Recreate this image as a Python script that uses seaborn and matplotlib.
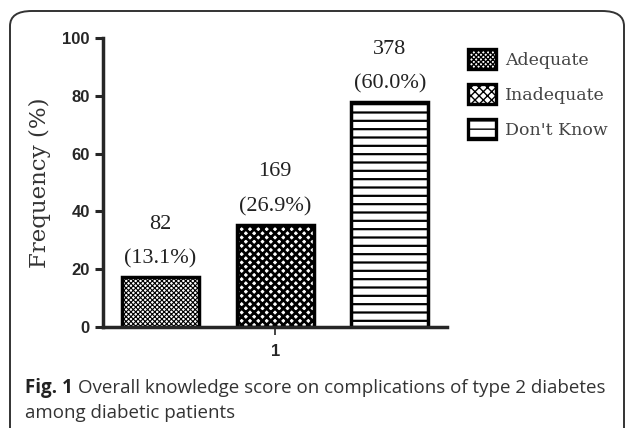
import matplotlib
matplotlib.use("Agg")
import matplotlib.pyplot as plt
from matplotlib.patches import FancyBboxPatch, Patch
import seaborn as sns
import pandas as pd

# values
groups = ["1", "1", "1"]
categories = ["Adequate", "Inadequate", "Don't Know"]
heights = [17.3, 35.4, 77.9]
counts = [82, 169, 378]
percents = ["13.1%", "26.9%", "60.0%"]
hatches = ["xxxxxxx", "xxxx", "--"]

df = pd.DataFrame({"group": groups, "knowledge": categories, "freq": heights})

sns.set_style("ticks")
fig = plt.figure(figsize=(6.27, 4.28), dpi=100)
ax = fig.add_axes([0.1643, 0.236, 0.549, 0.675])

sns.barplot(data=df, x="group", y="freq", hue="knowledge", hue_order=categories,
            palette=["white"] * 3, gap=0.33, width=0.8, edgecolor="black",
            linewidth=2.5, ax=ax, legend=False)

hatch_lw = {"xxxxxxx": 0.8, "xxxx": 2.0, "--": 1.6}
for bars, h in zip(ax.containers, hatches):
    for b in bars:
        b.set_hatch(h)
        try:
            b.set_hatch_linewidth(hatch_lw[h])
        except AttributeError:
            pass

for bars, c, p in zip(ax.containers, counts, percents):
    ax.bar_label(bars, labels=[f"{c}\n({p})"], padding=6, fontsize=16,
                 family="Liberation Serif", linespacing=2.1, color="#222222")

ax.set_xlim(-0.4, 0.4)
ax.set_ylim(0, 100)
ax.set_yticks([0, 20, 40, 60, 80, 100])
ax.set_xlabel("")
ax.set_ylabel("Frequency (%)", family="DejaVu Serif", fontsize=16.5, color="#333333", labelpad=8)
sns.despine(ax=ax)
for s in ["left", "bottom"]:
    ax.spines[s].set_linewidth(2.5)
ax.tick_params(axis="y", length=6, width=2.2, labelsize=12)
ax.tick_params(axis="x", length=6, width=1.2, labelsize=12, pad=6)
for t in ax.get_xticklabels() + ax.get_yticklabels():
    t.set_family("Liberation Sans")
    t.set_fontweight("bold")

# legend
handles = []
for c, h in zip(categories, hatches):
    p = Patch(facecolor="white", edgecolor="black", hatch=h, linewidth=2.4, label=c)
    try:
        p.set_hatch_linewidth(hatch_lw[h])
    except AttributeError:
        pass
    handles.append(p)
leg = fig.legend(handles=handles, loc="upper left", bbox_to_anchor=(0.722, 0.921),
                 frameon=False, prop={"family": "DejaVu Serif", "size": 12.5},
                 handlelength=1.6, handleheight=1.35, handletextpad=0.5, labelspacing=0.88)
for t in leg.get_texts():
    t.set_color("#444444")

# border box
box = FancyBboxPatch((10 / 627, -0.1), 614 / 627, 1.1 - 11 / 428,
                     boxstyle="round,pad=0,rounding_size=0.035", transform=fig.transFigure,
                     facecolor="none", edgecolor="#333333", linewidth=1.4, clip_on=False)
fig.add_artist(box)

# caption
t1 = fig.text(25 / 627, 1 - 393 / 428, "Fig. 1", fontsize=13.5, family="Open Sans",
              fontweight="bold", color="#222222")
fig.canvas.draw()
bb = t1.get_window_extent()
fig.text((bb.x1 + 5) / 627, 1 - 393 / 428,
         "Overall knowledge score on complications of type 2 diabetes",
         fontsize=13.5, family="Open Sans", color="#333333")
fig.text(25 / 627, 1 - 418 / 428, "among diabetic patients",
         fontsize=13.5, family="Open Sans", color="#333333")

fig.savefig("out.png", dpi=100)
